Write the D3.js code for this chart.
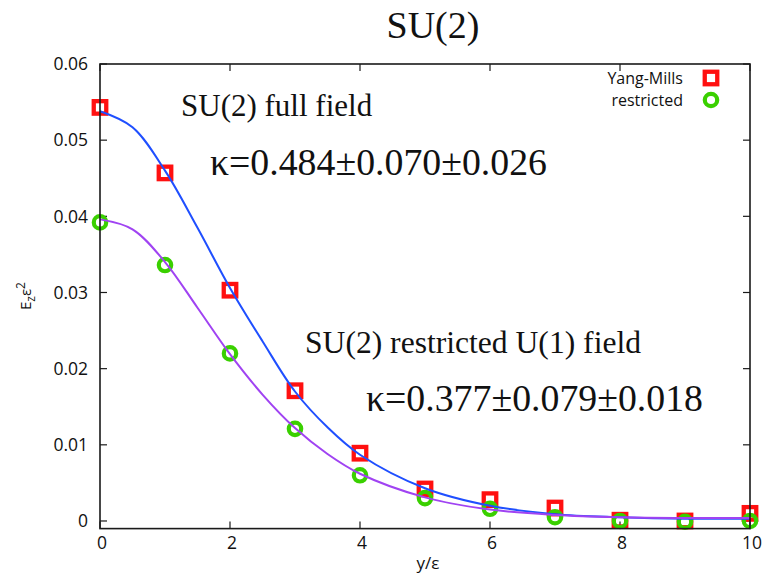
<!DOCTYPE html>
<html>
<head>
<meta charset="utf-8">
<script src="https://cdn.jsdelivr.net/npm/d3@7/dist/d3.min.js"></script>
<style>
  html, body { margin: 0; padding: 0; background: #fff; }
  svg { display: block; }
</style>
</head>
<body>
<svg id="chart" width="765" height="574"></svg>
<script>
// Transverse distance y/ε for the lattice measurements
const positions = [0, 1, 2, 3, 4, 5, 6, 7, 8, 9, 10];
// E_z ε^2 : full SU(2) Yang-Mills field
const yangMills = [0.0543, 0.0457, 0.0303, 0.0171, 0.0089, 0.0042, 0.0028, 0.0017, 0.0001, 0.0000, 0.0010];
// E_z ε^2 : restricted U(1) field
const restricted = [0.0392, 0.0336, 0.0220, 0.0121, 0.0060, 0.0030, 0.0016, 0.0005, 0.0000, -0.0001, 0.0000];

// Fitted profiles sampled along y/ε
const fitX = [0, 0.5, 1, 1.5, 2, 2.5, 3, 3.5, 4, 5, 6, 7, 8, 9, 10];
const fitFull = [0.0538, 0.0517, 0.0460, 0.0385, 0.0306, 0.0236, 0.0170, 0.0123, 0.0087, 0.0043, 0.0020, 0.0009, 0.0005, 0.0003, 0.0003];
const fitRestricted = [0.0396, 0.0383, 0.0340, 0.0280, 0.0219, 0.0166, 0.0122, 0.0088, 0.0062, 0.0031, 0.0015, 0.0008, 0.0005, 0.0004, 0.0004];

const xTicks = [0, 2, 4, 6, 8, 10];
const xTickLabels = ["0", "2", "4", "6", "8", "10"];
const yTicks = [0, 0.01, 0.02, 0.03, 0.04, 0.05, 0.06];
const yTickLabels = ["0", "0.01", "0.02", "0.03", "0.04", "0.05", "0.06"];

const legendLabels = ["Yang-Mills", "restricted"];

const svg = d3.select("#chart");
const plotL = 100, plotR = 750, plotT = 64, plotB = 528.6;

const x = d3.scaleLinear().domain([0, 10]).range([plotL, plotR]);
const y = d3.scaleLinear().domain([-0.001, 0.06]).range([plotB, plotT]);

const sans = "'Open Sans', 'DejaVu Sans', sans-serif";
const serif = "'Liberation Serif', 'DejaVu Serif', serif";
const axisColor = "#1a1a1a";

// Title
svg.append("text")
  .attr("x", 433).attr("y", 38)
  .attr("text-anchor", "middle")
  .style("font-family", serif).style("font-size", "38px")
  .attr("fill", "#111")
  .text("SU(2)");

// Tick marks on all four sides (pointing inwards)
const tickLen = 7;
const gTicks = svg.append("g").attr("stroke", axisColor).attr("stroke-width", 1.2);
yTicks.forEach(v => {
  gTicks.append("line").attr("x1", plotL).attr("x2", plotL + tickLen).attr("y1", y(v)).attr("y2", y(v));
  gTicks.append("line").attr("x1", plotR).attr("x2", plotR - tickLen).attr("y1", y(v)).attr("y2", y(v));
});
xTicks.forEach(v => {
  gTicks.append("line").attr("x1", x(v)).attr("x2", x(v)).attr("y1", plotB).attr("y2", plotB - tickLen);
  gTicks.append("line").attr("x1", x(v)).attr("x2", x(v)).attr("y1", plotT).attr("y2", plotT + tickLen);
});

// Tick labels
svg.append("g").selectAll("text").data(yTicks).join("text")
  .attr("x", plotL - 12).attr("y", d => y(d))
  .attr("dy", "0.36em")
  .attr("text-anchor", "end")
  .style("font-family", sans).style("font-size", "17.5px")
  .attr("fill", "#111")
  .text((d, i) => yTickLabels[i]);

svg.append("g").selectAll("text").data(xTicks).join("text")
  .attr("x", d => x(d) + 2).attr("y", 549)
  .attr("text-anchor", "middle")
  .style("font-family", sans).style("font-size", "17.5px")
  .attr("fill", "#111")
  .text((d, i) => xTickLabels[i]);

// Axis titles
svg.append("text")
  .attr("x", 428).attr("y", 569)
  .attr("text-anchor", "middle")
  .style("font-family", sans).style("font-size", "17px")
  .attr("fill", "#111")
  .text("y/ε");

const yTitle = svg.append("text")
  .attr("transform", "translate(31,296) rotate(-90)")
  .attr("text-anchor", "middle")
  .style("font-family", sans).style("font-size", "15px")
  .attr("fill", "#111");
yTitle.append("tspan").text("E");
yTitle.append("tspan").attr("dy", 4).style("font-size", "12px").text("z");
yTitle.append("tspan").attr("dy", -4).text("ε");
yTitle.append("tspan").attr("dy", -6).style("font-size", "12px").text("2");

// Data points: squares for Yang-Mills, circles for the restricted field
const sq = 12.5;
svg.append("g").selectAll("rect").data(positions).join("rect")
  .attr("x", (d) => x(d) - sq / 2)
  .attr("y", (d, i) => y(yangMills[i]) - sq / 2)
  .attr("width", sq).attr("height", sq)
  .attr("fill", "none").attr("stroke", "#ff1010").attr("stroke-width", 4.3);

svg.append("g").selectAll("circle").data(positions).join("circle")
  .attr("cx", d => x(d))
  .attr("cy", (d, i) => y(restricted[i]))
  .attr("r", 6.2)
  .attr("fill", "none").attr("stroke", "#3ad000").attr("stroke-width", 4.2);

// Fit curves
const line = d3.line().x(d => x(d[0])).y(d => y(d[1])).curve(d3.curveCatmullRom.alpha(0.5));
svg.append("path")
  .datum(fitX.map((v, i) => [v, fitFull[i]]))
  .attr("d", line)
  .attr("fill", "none").attr("stroke", "#1f4fff").attr("stroke-width", 2);
svg.append("path")
  .datum(fitX.map((v, i) => [v, fitRestricted[i]]))
  .attr("d", line)
  .attr("fill", "none").attr("stroke", "#a043f2").attr("stroke-width", 2);

// Plot border
svg.append("rect")
  .attr("x", plotL).attr("y", plotT)
  .attr("width", plotR - plotL).attr("height", plotB - plotT)
  .attr("fill", "none").attr("stroke", axisColor).attr("stroke-width", 1.6);

// Legend
const legendY = [78, 100];
svg.append("g").selectAll("text").data(legendLabels).join("text")
  .attr("x", 683).attr("y", (d, i) => legendY[i])
  .attr("dy", "0.36em")
  .attr("text-anchor", "end")
  .style("font-family", sans).style("font-size", "16px")
  .attr("fill", "#111")
  .text(d => d);
svg.append("rect")
  .attr("x", 711 - sq / 2).attr("y", legendY[0] - sq / 2)
  .attr("width", sq).attr("height", sq)
  .attr("fill", "none").attr("stroke", "#ff1010").attr("stroke-width", 4.3);
svg.append("circle")
  .attr("cx", 711).attr("cy", legendY[1]).attr("r", 6.2)
  .attr("fill", "none").attr("stroke", "#3ad000").attr("stroke-width", 4.2);

// Annotations
const notes = [
  { text: "SU(2) full field", x: 181, y: 116, size: 31 },
  { text: "κ=0.484±0.070±0.026", x: 210, y: 175, size: 37.8 },
  { text: "SU(2) restricted U(1) field", x: 305, y: 353, size: 31.6 },
  { text: "κ=0.377±0.079±0.018", x: 366, y: 411, size: 37.8 }
];
svg.append("g").selectAll("text").data(notes).join("text")
  .attr("x", d => d.x).attr("y", d => d.y)
  .style("font-family", serif).style("font-size", d => d.size + "px")
  .attr("fill", "#111")
  .text(d => d.text);
</script>
</body>
</html>
